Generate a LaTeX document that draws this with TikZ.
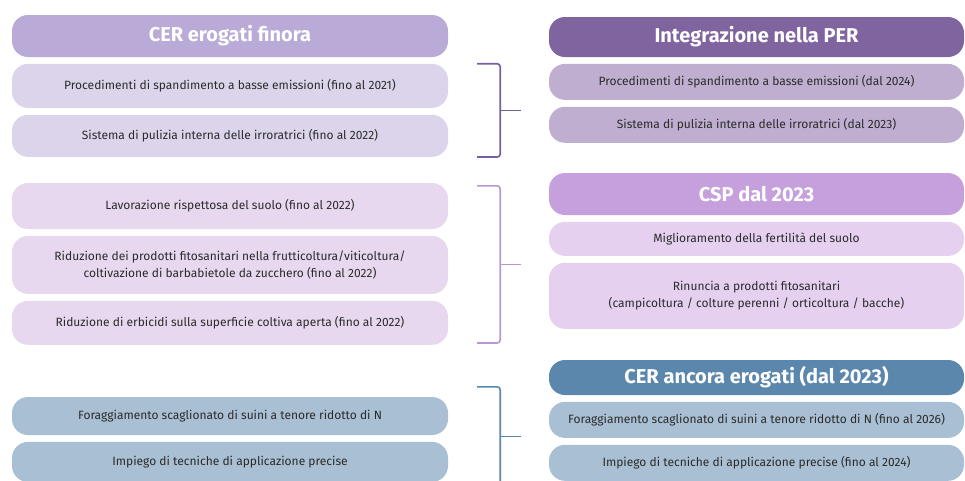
\documentclass[tikz,border=0pt]{standalone}
\usepackage{fontspec}
\setmainfont{Fira Sans}
\usetikzlibrary{calc,positioning}
\definecolor{cerhead}{HTML}{B9AAD8}
\definecolor{cerbox}{HTML}{DCD4EA}
\definecolor{perhead}{HTML}{7F649F}
\definecolor{perbox}{HTML}{BFAECF}
\definecolor{perline}{HTML}{74609D}
\definecolor{soilbox}{HTML}{E7D8EF}
\definecolor{csphead}{HTML}{C5A0DD}
\definecolor{cspbox}{HTML}{E5D0F0}
\definecolor{cspline}{HTML}{B896D8}
\definecolor{nhead}{HTML}{5C87AC}
\definecolor{nbox}{HTML}{A9BFD3}
\definecolor{nline}{HTML}{5B86AD}
\definecolor{txtgray}{HTML}{2B2B2B}

\begin{document}
\begin{tikzpicture}[x=1pt,y=1pt,node distance=6.5pt,
    pill/.style={rounded corners=16pt,minimum height=#1,inner sep=2pt,align=center,
      text=txtgray,font=\fontsize{12}{17.5}\selectfont},
    lpill/.style={pill=#1,minimum width=436pt},
    rpill/.style={pill=#1,minimum width=415pt},
    head/.style={text=white,font=\fontsize{20}{24}\selectfont\bfseries},
    brace/.style={line width=1.6pt,rounded corners=3pt}]
        \useasboundingbox (0,0) rectangle (965,-480);
        % left column
        \node[lpill=42pt,head,fill=cerhead] (lh1) at (230,-36) {CER erogati finora};
        \node[lpill=44pt,fill=cerbox,below=of lh1] (l1) {Procedimenti di spandimento a basse emissioni (fino al 2021)};
        \node[lpill=42pt,fill=cerbox,below=of l1] (l2) {Sistema di pulizia interna delle irroratrici (fino al 2022)};
        \node[lpill=46pt,fill=soilbox] (l3) at (230,-206) {Lavorazione rispettosa del suolo (fino al 2022)};
        \node[lpill=58pt,fill=soilbox,below=of l3] (l4) {Riduzione dei prodotti fitosanitari nella frutticoltura/viticoltura/\\coltivazione di barbabietole da zucchero (fino al 2022)};
        \node[lpill=44pt,fill=soilbox,below=of l4] (l5) {Riduzione di erbicidi sulla superficie coltiva aperta (fino al 2022)};
        \node[lpill=38pt,fill=nbox] (l6) at (230,-416) {Foraggiamento scaglionato di suini a tenore ridotto di N};
        \node[lpill=40pt,fill=nbox,below=of l6] (l7) {Impiego di tecniche di applicazione precise};
        % right column
        \node[rpill=40pt,head,fill=perhead] (rh1) at (756.5,-37) {Integrazione nella PER};
        \node[rpill=36pt,fill=perbox,below=of rh1] (r1) {Procedimenti di spandimento a basse emissioni (dal 2024)};
        \node[rpill=36pt,fill=perbox,below=of r1] (r2) {Sistema di pulizia interna delle irroratrici (dal 2023)};
        \node[rpill=42pt,head,fill=csphead] (rh2) at (756.5,-194) {CSP dal 2023};
        \node[rpill=34pt,fill=cspbox,below=of rh2] (r3) {Miglioramento della fertilità del suolo};
        \node[rpill=66pt,fill=cspbox,below=of r3] (r4) {Rinuncia a prodotti fitosanitari\\(campicoltura / colture perenni / orticoltura / bacche)};
        \node[rpill=35pt,head,fill=nhead] (rh3) at (756.5,-377.5) {CER ancora erogati (dal 2023)};
        \node[rpill=36pt,fill=nbox,below=of rh3] (r5) {Foraggiamento scaglionato di suini a tenore ridotto di N (fino al 2026)};
        \node[rpill=36pt,fill=nbox,below=of r5] (r6) {Impiego di tecniche di applicazione precise (fino al 2024)};
        % brackets
        \coordinate (b1t) at ($(l1.north east)+(29,0)$);
        \coordinate (b1b) at ($(l2.south east)+(29,0)$);
        \coordinate (b2t) at ($(l3.north east)+(29,-3)$);
        \coordinate (b2b) at ($(l5.south east)+(29,2)$);
        \coordinate (b3t) at ($(l6.north east)+(29,10)$);
        \coordinate (b3b) at ($(l7.south east)+(29,-4)$);
        \draw[brace,perline] (b1t) -- ++(23,0) -- ($(b1b)+(23,0)$) -- (b1b);
        \draw[brace,perline] ($(b1t)!0.5!(b1b)+(23,0)$) -- ++(21,0);
        \draw[brace,cspline] (b2t) -- ++(23,0) -- ($(b2b)+(23,0)$) -- (b2b);
        \draw[brace,cspline] ($(b2t)!0.5!(b2b)+(23,0)$) -- ++(21,0);
        \draw[brace,nline] (b3t) -- ++(23,0) -- ($(b3b)+(23,0)$) -- (b3b);
        \draw[brace,nline] ($(b3t)!0.5!(b3b)+(23,0)$) -- ++(21,0);
\end{tikzpicture}
\end{document}
